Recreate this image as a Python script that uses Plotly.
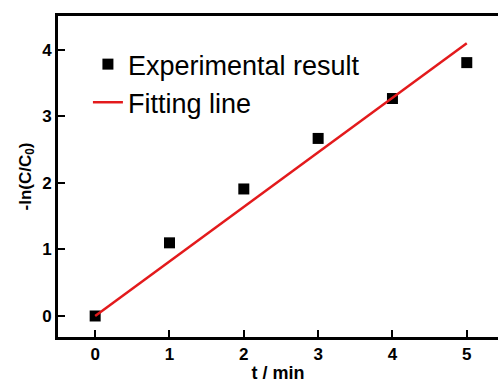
import plotly.graph_objects as go

t_exp = [0, 1, 2, 3, 4, 5]
y_exp = [0.0, 1.10, 1.91, 2.67, 3.27, 3.81]
t_fit = [0, 5]
y_fit = [0.0, 4.10]

fig = go.Figure()
fig.add_trace(go.Scatter(x=t_exp, y=y_exp, mode="markers", name="Experimental result",
                         marker=dict(symbol="square", size=11, color="black")))
fig.add_trace(go.Scatter(x=t_fit, y=y_fit, mode="lines", name="Fitting line",
                         line=dict(color="#e31a1c", width=2.5)))

font_fam = "Arial, Liberation Sans, sans-serif"
fig.update_layout(
    width=498, height=383,
    margin=dict(l=58, r=0, t=16, b=46),
    paper_bgcolor="white", plot_bgcolor="white",
    font=dict(family=font_fam, color="black"),
    showlegend=True,
    legend=dict(x=0.068, y=0.925, xanchor="left", yanchor="top",
                font=dict(size=27, family=font_fam, color="black"),
                bgcolor="rgba(0,0,0,0)", borderwidth=0, tracegroupgap=0,
                itemwidth=30),
)
fig.update_xaxes(range=[-0.5, 5.42], tickvals=[0, 1, 2, 3, 4, 5],
                 showgrid=False, zeroline=False, showline=True, linecolor="black",
                 linewidth=3, mirror=True, ticks="inside", ticklen=7, tickwidth=2,
                 tickcolor="black",
                 tickfont=dict(size=17, family=font_fam, weight="bold"),
                 title=dict(text="t / min", font=dict(size=18, family=font_fam, weight="bold"),
                            standoff=4))
fig.update_yaxes(range=[-0.316, 4.511], tickvals=[0, 1, 2, 3, 4],
                 showgrid=False, zeroline=False, showline=True, linecolor="black",
                 linewidth=3, ticks="inside", ticklen=7, tickwidth=2, tickcolor="black",
                 tickfont=dict(size=17, family=font_fam, weight="bold"),
                 title=dict(text="-ln(C/C<sub>0</sub>)",
                            font=dict(size=17, family=font_fam, weight="bold"),
                            standoff=7))

fig.write_html("out.html")
